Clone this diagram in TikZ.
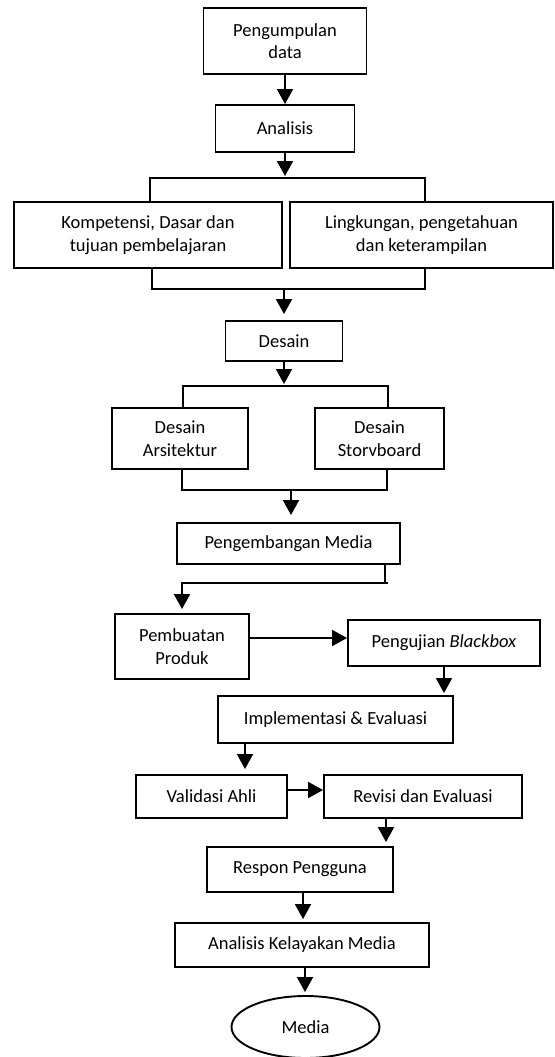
\documentclass[tikz,border=0pt]{standalone}
\usepackage{fontspec}
\setmainfont{Carlito}
\usetikzlibrary{arrows.meta,shapes.geometric}
\begin{document}
\begin{tikzpicture}[x=1pt,y=-1pt,
  line width=1.9pt,
  box/.style={draw=black,line width=1.9pt,rectangle,inner sep=0pt,align=center,
    font=\fontsize{18.5}{22.5}\selectfont},
  oval/.style={draw=black,line width=1.9pt,ellipse,inner sep=0pt,align=center,
    font=\fontsize{18.5}{22.5}\selectfont},
  arr/.style={-{Triangle[length=15pt,width=16pt]}},
  link/.style={line width=1.9pt}
]
\useasboundingbox (0,0) rectangle (554,1057);

\node[box,minimum width=163,minimum height=66] (pd) at (285,41) {Pengumpulan\\data};
\node[box,minimum width=139,minimum height=47] (an) at (285,128.5) {Analisis};
\node[box,minimum width=268,minimum height=66] (kd) at (148,235) {Kompetensi, Dasar dan\\tujuan pembelajaran};
\node[box,minimum width=263,minimum height=66] (lp) at (421.5,235) {Lingkungan, pengetahuan\\dan keterampilan};
\node[box,minimum width=117,minimum height=40] (ds) at (284,341) {Desain};
\node[box,minimum width=136,minimum height=61] (da) at (180,438.5) {Desain\\Arsitektur};
\node[box,minimum width=129,minimum height=61] (dsb) at (379.5,438.5) {Desain\\Storvboard};
\node[box,minimum width=223,minimum height=41] (pm) at (288.5,543.5) {Pengembangan Media};
\node[box,minimum width=134,minimum height=65] (pp) at (182,646.5) {Pembuatan\\Produk};
\node[box,minimum width=192,minimum height=46] (pb) at (444,643) {Pengujian \textit{Blackbox}};
\node[box,minimum width=235,minimum height=47] (ie) at (335.5,719.5) {Implementasi \& Evaluasi};
\node[box,minimum width=151,minimum height=43] (va) at (211.5,796.5) {Validasi Ahli};
\node[box,minimum width=198,minimum height=43] (re) at (423,796.5) {Revisi dan Evaluasi};
\node[box,minimum width=186,minimum height=45] (rp) at (300,869.5) {Respon Pengguna};
\node[box,minimum width=254,minimum height=44] (ak) at (302,945) {Analisis Kelayakan Media};
\node[oval,minimum width=148,minimum height=62] (me) at (305.5,1027) {Media};

% pd -> an
\draw[arr] (pd.south) -- (pd.south |- an.north);
% an -> bracket 1
\coordinate (b1l) at (150,178);
\coordinate (b1r) at (425,178);
\coordinate (b1m) at (285,176);
\draw[arr] (an.south) -- (an.south |- b1m);
\draw[link] (b1l |- kd.north) -- (b1l) -- (b1r) -- (b1r |- lp.north);
% bracket 2 -> ds
\coordinate (b2l) at (152,289);
\coordinate (b2r) at (425,289);
\draw[link] (b2l |- kd.south) -- (b2l) -- (b2r) -- (b2r |- lp.south);
\draw[arr,shorten >=6pt] (ds.north |- b2l) -- (ds.north);
% ds -> bracket 3
\coordinate (b3l) at (183,386);
\coordinate (b3r) at (388,386);
\coordinate (b3m) at (284,384);
\draw[arr] (ds.south) -- (ds.south |- b3m);
\draw[link] (b3l |- da.north) -- (b3l) -- (b3r) -- (b3r |- dsb.north);
% bracket 4 -> pm
\coordinate (b4l) at (182,490);
\coordinate (b4r) at (387,490);
\coordinate (b4m) at (291,490);
\draw[link] (b4l |- da.south) -- (b4l) -- (b4r) -- (b4r |- dsb.south);
\draw[arr,shorten >=7pt] (b4m) -- (b4m |- pm.north);
% pm -> pp
\coordinate (c1) at (385,583);
\draw[link] (c1) -- (388,583);
\draw[arr,shorten >=4pt] (c1 |- pm.south) -- (c1) -| (pp.north);
% pp -> pb
\coordinate (c2) at (300,638);
\draw[arr] (pp.east |- c2) -- (pb.west |- c2);
% pb -> ie
\draw[arr,shorten >=2pt] (pb.south) -- (pb.south |- ie.north);
% ie -> va
\coordinate (c3) at (245,760);
\draw[arr,shorten >=5pt] (ie.south -| c3) -- (va.north -| c3);
% va -> re
\coordinate (c4) at (300,790);
\draw[arr] (va.east |- c4) -- (re.west |- c4);
% re -> rp
\coordinate (c5) at (386,830);
\draw[arr,shorten >=4pt] (re.south -| c5) -- (rp.north -| c5);
% rp -> ak
\coordinate (c6) at (303,900);
\draw[arr,shorten >=3pt] (rp.south -| c6) -- (ak.north -| c6);
% ak -> me
\coordinate (c7) at (305,980);
\draw[arr,shorten >=3pt] (ak.south -| c7) -- (me.north -| c7);
\end{tikzpicture}
\end{document}
